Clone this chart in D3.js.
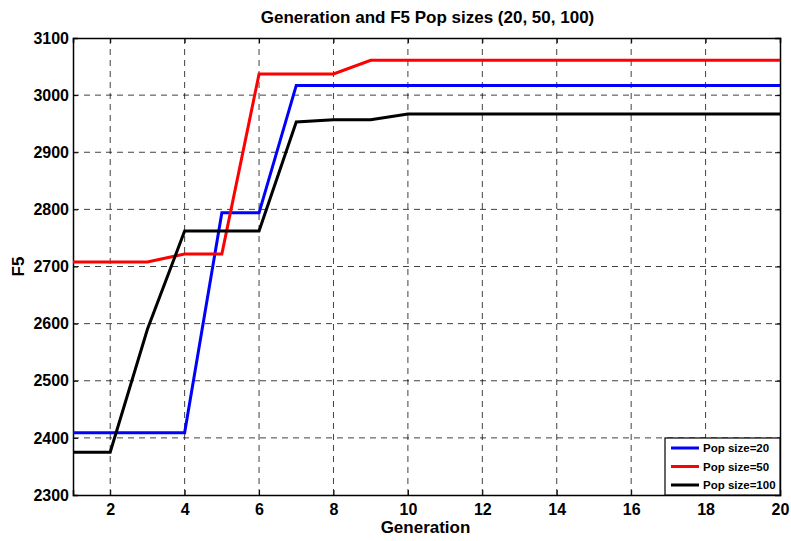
<!DOCTYPE html>
<html>
<head>
<meta charset="utf-8">
<script src="https://cdn.jsdelivr.net/npm/d3@7"></script>
<style>
  body { margin: 0; background: #fff; }
  text { font-family: "Liberation Sans", Arial, sans-serif; font-weight: bold; }
</style>
</head>
<body>
<div id="chart"></div>
<script>
// Données
const generations = d3.range(1, 21);
const pop20 = [2409, 2409, 2409, 2409, 2794, 2794, 3017, 3017, 3017, 3017, 3017, 3017, 3017, 3017, 3017, 3017, 3017, 3017, 3017, 3017];
const pop50 = [2708, 2708, 2708, 2722, 2722, 3037, 3037, 3037, 3061, 3061, 3061, 3061, 3061, 3061, 3061, 3061, 3061, 3061, 3061, 3061];
const pop100 = [2375, 2375, 2590, 2762, 2762, 2762, 2953, 2957, 2957, 2967, 2967, 2967, 2967, 2967, 2967, 2967, 2967, 2967, 2967, 2967];
const xTicks = [2, 4, 6, 8, 10, 12, 14, 16, 18, 20];
const yTicks = [2300, 2400, 2500, 2600, 2700, 2800, 2900, 3000, 3100];

const series = [
  { label: "Pop size=20", col: "#0000ff", values: pop20 },
  { label: "Pop size=50", col: "#ff0000", values: pop50 },
  { label: "Pop size=100", col: "#000000", values: pop100 },
];

const W = 791, H = 541;
const margin = { left: 73, right: 11, top: 38, bottom: 46 };
const width = W - margin.left - margin.right;
const height = H - margin.top - margin.bottom;

const svg = d3.select("#chart").append("svg")
  .attr("width", W).attr("height", H);

const g = svg.append("g").attr("transform", `translate(${margin.left},${margin.top})`);

// échelles
const x = d3.scaleLinear().domain([1, 20]).range([0, width]);
const y = d3.scaleLinear().domain([2300, 3100]).range([height, 0]);

// grille en pointillés
g.append("g").selectAll("line").data(xTicks.filter(d => d < 20)).join("line")
  .attr("x1", d => x(d)).attr("x2", d => x(d))
  .attr("y1", 0).attr("y2", height)
  .attr("stroke", "#000").attr("stroke-opacity", 0.75)
  .attr("stroke-dasharray", "6,5");
g.append("g").selectAll("line").data(yTicks.filter(d => d > 2300 && d < 3100)).join("line")
  .attr("x1", 0).attr("x2", width)
  .attr("y1", d => y(d)).attr("y2", d => y(d))
  .attr("stroke", "#000").attr("stroke-opacity", 0.75)
  .attr("stroke-dasharray", "6,5");

// axes (ticks vers l'intérieur)
const axB = g.append("g").attr("transform", `translate(0,${height})`)
  .call(d3.axisBottom(x).tickValues(xTicks).tickSize(-5).tickPadding(9).tickFormat(d3.format("d")));
const axL = g.append("g")
  .call(d3.axisLeft(y).tickValues(yTicks).tickSize(-5).tickPadding(4).tickFormat(d3.format("d")));
g.append("g").call(d3.axisTop(x).tickValues(xTicks).tickSize(-5).tickFormat(""));
g.append("g").attr("transform", `translate(${width},0)`)
  .call(d3.axisRight(y).tickValues(yTicks).tickSize(-5).tickFormat(""));

g.selectAll(".domain").attr("stroke", "#000").attr("stroke-width", 1.5);
g.selectAll(".tick line").attr("stroke", "#000");
[axB, axL].forEach(a => a.selectAll("text")
  .attr("font-size", "16px").attr("font-weight", "bold")
  .attr("font-family", "'Liberation Sans', Arial, sans-serif").attr("fill", "#000"));

// courbes
const line = d3.line().x((d, i) => x(generations[i])).y(d => y(d));
g.append("g").selectAll("path").data(series).join("path")
  .attr("d", d => line(d.values))
  .attr("fill", "none")
  .attr("stroke", d => d.col)
  .attr("stroke-width", 3);

// titres
svg.append("text").attr("x", margin.left + width / 2 + 1).attr("y", 23)
  .attr("text-anchor", "middle").attr("font-size", "17px").text("Generation and F5 Pop sizes (20, 50, 100)");
svg.append("text").attr("x", margin.left + width / 2 - 1).attr("y", 533)
  .attr("text-anchor", "middle").attr("font-size", "17px").text("Generation");
svg.append("text").attr("transform", `translate(24,${margin.top + height / 2}) rotate(-90)`)
  .attr("text-anchor", "middle").attr("font-size", "17px").text("F5");

// légende
const lgW = 115, lgH = 57;
const legend = g.append("g").attr("transform", `translate(${width - lgW},${height - lgH})`);
legend.append("rect").attr("width", lgW).attr("height", lgH)
  .attr("fill", "#fff").attr("stroke", "#000").attr("stroke-width", 1.2);
const item = legend.selectAll(".item").data(series).join("g")
  .attr("transform", (d, i) => `translate(0,${10 + i * 18.5})`);
item.append("line").attr("x1", 6).attr("x2", 34).attr("y1", 0).attr("y2", 0)
  .attr("stroke", d => d.col).attr("stroke-width", 3);
item.append("text").attr("x", 38).attr("y", 4).attr("font-size", "11.5px").text(d => d.label);
</script>
</body>
</html>
